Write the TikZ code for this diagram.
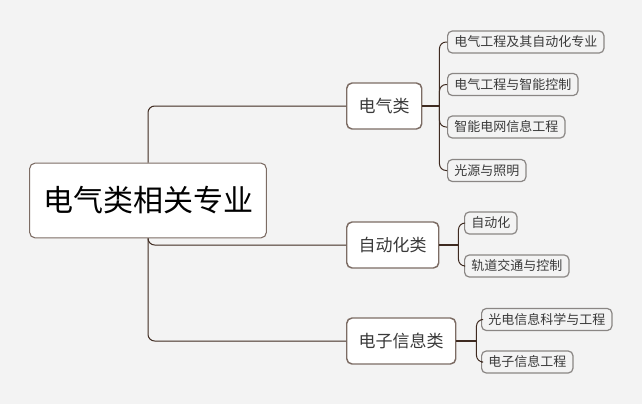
\documentclass[tikz,border=0pt]{standalone}
\usepackage{fontspec}
\setmainfont{Noto Sans CJK SC}
\usetikzlibrary{positioning}
\definecolor{mybg}{RGB}{243, 243, 243}
\definecolor{myline}{RGB}{62, 42, 32}
\definecolor{myborder1}{RGB}{124, 108, 100}
\definecolor{myborder2}{RGB}{138, 134, 132}
\definecolor{mytext}{RGB}{58, 58, 58}
\tikzset{
  rootbox/.style={draw=myborder1, fill=white, line width=0.8pt, rounded corners=4pt, inner xsep=10pt, minimum height=56pt, font=\fontsize{22.5}{27}\selectfont, text=black},
  catbox/.style={draw=myborder1, fill=white, line width=1.1pt, rounded corners=4pt, inner xsep=9pt, minimum height=34.5pt, font=\fontsize{12.75}{15}\selectfont, text=mytext},
  majorbox/.style={draw=myborder2, fill=mybg, line width=0.9pt, rounded corners=3.5pt, inner xsep=5pt, minimum height=16.5pt, font=\fontsize{9.75}{12}\selectfont, text=mytext},
  link/.style={draw=myline, line width=0.75pt, rounded corners=5pt},
  thicklink/.style={draw=myline, line width=1.5pt}
}
\begin{document}
\begin{tikzpicture}[x=0.75pt, y=-0.75pt]
\fill[mybg] (0,0) rectangle (642,404);
\useasboundingbox (0,0) rectangle (642,404);

% --- Root ---
\node at (148,200.5) [rootbox] (root) {电气类相关专业};

% --- Categories ---
\node at (346,106) [catbox, anchor=west] (dq) {电气类};
\node at (346,245) [catbox, anchor=west] (zdh) {自动化类};
\node at (346,341) [catbox, anchor=west] (dzxx) {电子信息类};

% --- Majors ---
\node at (447,42) [majorbox, anchor=west] (dq1) {电气工程及其自动化专业};
\node at (447,84.5) [majorbox, anchor=west] (dq2) {电气工程与智能控制};
\node at (447,127) [majorbox, anchor=west] (dq3) {智能电网信息工程};
\node at (447,170.5) [majorbox, anchor=west] (dq4) {光源与照明};
\node at (464,223) [majorbox, anchor=west] (zdh1) {自动化};
\node at (464,266) [majorbox, anchor=west] (zdh2) {轨道交通与控制};
\node at (481,319.5) [majorbox, anchor=west] (dzxx1) {光电信息科学与工程};
\node at (481,362) [majorbox, anchor=west] (dzxx2) {电子信息工程};

% --- Links ---
\draw[link] (root.north) |- (dq.west);
\draw[link] (root.south) |- (zdh.west);
\draw[link] (root.south) |- (dzxx.west);

\draw[thicklink] (dq.east) -- ++(17,0) coordinate (dqhub);
\foreach \m in {dq1, dq2, dq3, dq4}
  \draw[link] (dqhub) |- (\m.west);
\draw[thicklink] (zdh.east) -- ++(19,0) coordinate (zdhhub);
\foreach \m in {zdh1, zdh2}
  \draw[link] (zdhhub) |- (\m.west);
\draw[thicklink] (dzxx.east) -- ++(20,0) coordinate (dzxxhub);
\foreach \m in {dzxx1, dzxx2}
  \draw[link] (dzxxhub) |- (\m.west);
\end{tikzpicture}
\end{document}
